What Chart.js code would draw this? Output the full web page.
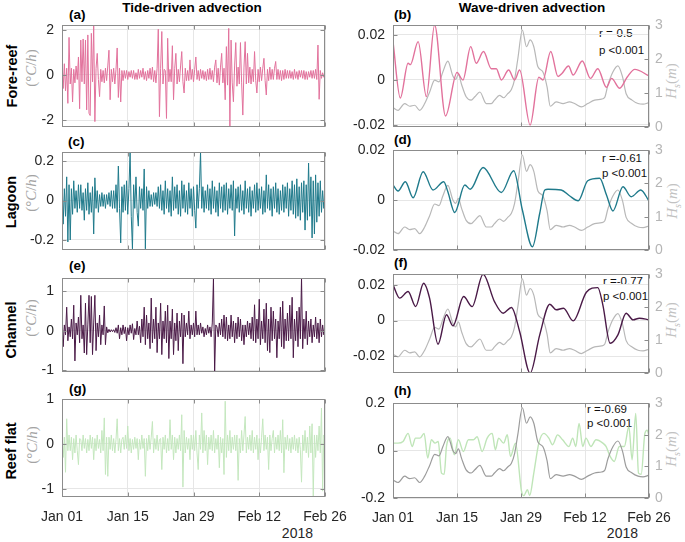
<!DOCTYPE html>
<html><head><meta charset="utf-8">
<script src="https://cdn.jsdelivr.net/npm/chart.js@4.4.0/dist/chart.umd.min.js"></script>
<style>
html,body{margin:0;padding:0;background:#fff;}
body{width:685px;height:542px;position:relative;overflow:hidden;font-family:"Liberation Sans",Arial,Helvetica,sans-serif;}
canvas{position:absolute;}
.tx{position:absolute;white-space:nowrap;color:#000;line-height:1;}
.c{transform:translate(-50%,-50%);}
.l{transform:translate(0,-50%);}
.r{transform:translate(-100%,-50%);}
.rot{transform:translate(-50%,-50%) rotate(-90deg);}
.title{font-weight:bold;font-size:13.5px;}
.lab{font-weight:bold;font-size:13.5px;}
.row{font-weight:bold;font-size:14.5px;}
.unit{font-family:"Liberation Serif","DejaVu Serif",serif;font-size:15px;color:#a3a3a3;}
.hs{font-family:"Liberation Serif","DejaVu Serif",serif;font-size:15px;color:#c2c2c2;}
.hs sub{font-size:10px;}
.st{font-size:11.5px;color:#111;}
.yr{font-size:14px;color:#262626;}
</style></head><body>
<div class="tx c title" style="left:192px;top:8px">Tide-driven advection</div>
<div class="tx c title" style="left:532px;top:8px">Wave-driven advection</div>

<div class="tx l lab" style="left:69px;top:15px">(a)</div>
<div class="tx l lab" style="left:394px;top:15px">(b)</div>
<div class="tx l lab" style="left:68px;top:142px">(c)</div>
<div class="tx l lab" style="left:394px;top:140px">(d)</div>
<div class="tx l lab" style="left:69px;top:266px">(e)</div>
<div class="tx l lab" style="left:394px;top:263px">(f)</div>
<div class="tx l lab" style="left:69px;top:389px">(g)</div>
<div class="tx l lab" style="left:394px;top:391px">(h)</div>

<div class="tx rot row" style="left:12px;top:76px">Fore-reef</div>
<div class="tx rot row" style="left:11px;top:202px">Lagoon</div>
<div class="tx rot row" style="left:11px;top:330px">Channel</div>
<div class="tx rot row" style="left:11px;top:451px">Reef flat</div>

<div class="tx rot unit" style="left:31px;top:68px">(°<i>C</i>/<i>h</i>)</div>
<div class="tx rot unit" style="left:31px;top:193px">(°<i>C</i>/<i>h</i>)</div>
<div class="tx rot unit" style="left:31px;top:318px">(°<i>C</i>/<i>h</i>)</div>
<div class="tx rot unit" style="left:32px;top:445px">(°<i>C</i>/<i>h</i>)</div>

<div class="tx rot hs" style="left:673px;top:81px"><i>H<sub>s</sub></i>(<i>m</i>)</div>
<div class="tx rot hs" style="left:674px;top:201px"><i>H<sub>s</sub></i>(<i>m</i>)</div>
<div class="tx rot hs" style="left:673px;top:320px"><i>H<sub>s</sub></i>(<i>m</i>)</div>
<div class="tx rot hs" style="left:673px;top:449px"><i>H<sub>s</sub></i>(<i>m</i>)</div>

<div class="tx l st" style="left:599px;top:34px">r =-0.5</div>
<div class="tx l st" style="left:599px;top:51px">p &lt;0.001</div>
<div class="tx l st" style="left:602px;top:159px">r =-0.61</div>
<div class="tx l st" style="left:602px;top:174px">p &lt;0.001</div>
<div class="tx l st" style="left:603px;top:282px">r =-0.77</div>
<div class="tx l st" style="left:603px;top:297px">p &lt;0.001</div>
<div class="tx l st" style="left:587px;top:410px">r =-0.69</div>
<div class="tx l st" style="left:587px;top:424px">p &lt;0.001</div>

<div class="tx r yr" style="left:313px;top:533px">2018</div>
<div class="tx r yr" style="left:638px;top:533px">2018</div>

<script>
// ---------- data ----------
const tickDays = [0, 14, 28, 42, 56];
const tickLabels = ['Jan 01', 'Jan 15', 'Jan 29', 'Feb 12', 'Feb 26'];
const stepDays = 0.25; // left panels: one value every 6 h

const foreTide = [
 0.7,-0.6,0.5,-0.7, 0.3,-1.26,1.67,-0.4,
 0.3,-1.2,0.25,-0.35, 0.4,-0.2,0.8,-1.5,
 1.55,-0.3,1.6,-0.4, 1.55,-1.55,1.78,-1.7,
 -1.8,1.85,-0.3,2.2, -2.07,0.3,0.96,-0.2,
 -0.96,0.25,-0.3,0.2, -0.35,0.3,-0.25,0.4,
 1.1,-1.1,0.25,-0.3, 0.3,-0.4,0.25,1.2,
 -1.0,0.3,-1.2,0.2, -0.25,0.2,-0.15,0.2,
 -0.2,0.15,-0.1,0.2, -0.15,0.2,-0.2,0.1,
 -0.2,0.25,-0.15,0.2, -0.1,0.3,-0.2,0.15,
 -0.25,0.2,-0.15,0.3, -0.2,0.35,-0.3,0.2,
 -0.35,0.3,2.03,-1.85, 0.3,1.93,-0.4,0.25,
 0.2,-1.93,1.63,-0.3, 0.25,-0.3,1.3,-1.1,
 0.3,0.96,-0.4,0.25, -0.3,0.4,1.04,-0.3,
 -0.8,0.3,-0.25,0.2, -0.25,0.67,-0.2,0.25,
 -0.3,0.25,0.8,-0.2, 0.2,-0.25,0.25,-0.15,
 0.2,-0.2,0.15,-0.25, 0.25,-0.2,0.3,-0.2,
 0.2,-0.3,0.35,0.67, -0.35,0.3,-0.45,0.35,
 0.96,-0.35,0.3,-1.1, 1.26,-0.45,2.07,-2.27,
 1.55,-0.35,-1.19,0.4, 1.44,-0.5,0.35,-0.4,
 1.44,-0.35,-1.78,0.35, 1.48,-0.4,0.96,-0.35,
 0.35,-0.4,0.25,-0.3, 1.04,-0.25,-0.8,0.25,
 -0.3,0.35,-0.25,0.3, 0.74,-0.25,-0.89,0.25,
 -0.25,0.35,-0.2,0.25, -0.2,0.3,0.6,-0.2,
 0.25,-0.2,0.2,-0.25, 0.2,-0.2,0.25,-0.15,
 0.2,-0.15,0.2,-0.15, 0.15,-0.2,0.25,-0.15,
 0.15,-0.2,0.2,-0.1, 0.2,-0.15,0.2,-0.2,
 0.15,-0.2,0.15,-0.1, 0.2,-0.15,0.2,-0.15,
 0.25,-0.2,1.33,-1.08, 0.2,-0.15,0.1,-0.1,
 0.05];

const lagoonTide = [
 0.13,-0.12,0.06,-0.08, 0.12,-0.21,0.08,-0.2,
 0.06,-0.07,0.1,-0.04, 0.05,-0.06,0.08,-0.04,
 0.08,-0.05,0.04,-0.1, 0.06,-0.05,0.09,-0.07,
 0.04,-0.06,0.07,-0.17, 0.115,-0.04,0.05,-0.06,
 0.03,-0.03,0.04,-0.03, 0.03,-0.04,0.03,-0.02,
 0.04,-0.03,0.05,-0.04, 0.05,-0.04,0.08,-0.06,
 0.175,-0.04,-0.215,0.07, -0.06,0.08,-0.05,0.1,
 -0.07,0.06,0.246,-0.08, -0.245,0.08,-0.04,0.12,
 -0.06,-0.13,0.07,-0.04, 0.06,-0.05,0.16,-0.245,
 0.07,-0.04,0.05,-0.03, 0.03,-0.03,0.04,-0.02,
 0.04,-0.03,0.07,-0.04, 0.08,-0.05,0.05,-0.07,
 0.1,-0.04,0.06,-0.06, 0.05,-0.08,0.12,-0.05,
 0.07,-0.04,0.08,-0.07, 0.05,-0.08,0.1,-0.04,
 0.08,-0.06,0.05,-0.07, 0.09,-0.04,0.06,-0.08,
 0.07,-0.05,-0.14,0.08, -0.04,0.06,0.246,-0.04,
 0.07,-0.06,0.05,-0.04, 0.08,-0.05,0.06,-0.07,
 0.1,-0.04,0.07,-0.06, 0.05,-0.08,0.09,-0.04,
 0.07,-0.06,0.08,-0.05, 0.09,-0.07,0.06,-0.04,
 0.08,-0.05,0.1,-0.18, 0.06,-0.04,0.07,-0.06,
 0.08,-0.05,0.05,-0.07, 0.1,-0.04,0.06,-0.06,
 0.07,-0.08,0.05,-0.04, 0.08,-0.06,0.09,-0.05,
 0.06,-0.04,0.07,-0.07, 0.05,-0.06,0.13,-0.04,
 0.08,-0.05,0.06,-0.08, 0.07,-0.04,0.09,-0.06,
 0.06,-0.07,0.05,-0.05, 0.08,-0.06,0.07,-0.04,
 0.09,-0.08,0.06,-0.05, 0.1,-0.07,0.08,-0.09,
 0.11,-0.08,0.07,-0.1, 0.09,-0.06,0.1,-0.15,
 0.08,-0.1,0.19,-0.08, 0.12,-0.19,0.1,-0.17,
 0.13,-0.11,0.09,-0.08, 0.1,-0.06,0.05,-0.04,
 0.02];

const channelTide = [
 0.5,-0.4,0.15,-0.1, 0.6,-0.25,0.1,-0.15,
 0.3,-0.2,0.65,-0.76, 0.2,-0.1,0.35,-0.3,
 0.9,-0.2,0.15,-0.56, 0.7,-0.6,0.15,0.9,
 -0.3,0.87,-0.6,0.2, 0.9,-0.5,0.2,-0.15,
 0.4,-0.35,0.15,-0.1, 0.63,-0.35,0.1,-0.05,
 0.04,-0.03,0.03,-0.02, 0.03,-0.04,0.08,-0.06,
 0.15,-0.2,0.08,-0.1, 0.15,-0.07,0.1,-0.25,
 0.08,-0.1,0.15,-0.06, 0.18,-0.22,0.06,-0.1,
 0.25,-0.1,0.12,-0.3, 0.3,-0.15,0.6,-0.35,
 0.4,-0.2,0.2,-0.45, 0.83,-0.3,0.3,-0.2,
 0.6,-0.55,0.2,-0.2, 0.7,-0.6,0.25,-0.2,
 0.5,-0.3,0.65,-0.7, 0.25,-0.2,0.55,-0.6,
 0.2,-0.25,0.45,-0.5, 0.25,-0.15,0.45,-0.83,
 0.4,-0.15,0.2,-0.1, 0.5,-0.2,0.15,-0.1,
 0.2,-0.15,0.5,-0.1, 0.15,-0.1,0.2,-0.06,
 0.1,-0.15,0.06,-0.1, 0.15,-0.06,0.1,-0.15,
 0.2,1.32,-1.07,0.15, 0.1,-0.15,0.2,-0.1,
 0.3,-0.15,0.4,-0.2, 0.35,-0.25,0.15,-0.2,
 0.4,-0.15,0.25,-0.3, 0.2,-0.2,0.35,-0.15,
 0.3,-0.25,0.15,-0.35, 0.15,-0.15,0.25,-0.1,
 0.2,-0.2,0.35,-0.25, 0.66,-0.3,0.3,-0.2,
 0.8,-0.35,0.25,-0.2, 0.55,-0.3,0.7,-0.5,
 0.3,-0.55,0.6,-0.25, 0.5,-0.2,0.3,-0.68,
 0.25,-0.2,0.6,-0.4, 0.75,-0.45,0.3,-0.25,
 0.45,-0.25,0.65,-0.2, 0.85,-0.68,0.3,-0.25,
 0.5,-0.4,0.6,-0.2, 1.35,-0.45,0.3,-0.2,
 0.5,-0.35,0.25,-0.15, 0.3,-0.3,0.15,-0.15,
 0.35,-0.2,0.2,-0.3, 0.3,-0.15,0.15,-0.1,
 0.05];

const reefTide = [
 0.2,-0.3,0.15,-0.63, 0.56,-0.15,0.2,-0.15,
 0.15,-0.35,0.12,-0.2, 0.2,-0.15,-0.46,0.12,
 0.1,-0.15,0.2,-0.1, 0.12,-0.2,0.1,-0.15,
 0.2,-0.1,0.15,-0.35, 0.12,-0.15,0.2,-0.1,
 0.1,-0.2,0.3,-0.15, 0.58,-0.68,0.15,-0.72,
 0.15,-0.12,0.2,-0.15, 0.12,-0.2,0.1,0.56,
 -0.15,0.12,-0.2,0.1, 0.15,-0.12,0.2,-0.1,
 0.4,-0.15,0.12,-0.2, 0.1,-0.12,0.15,-0.1,
 0.12,-0.35,0.1,-0.12, 0.2,-0.1,0.12,-0.72,
 0.12,-0.15,0.2,-0.12, 0.15,0.5,-0.2,0.12,
 -0.12,0.2,-0.15,0.1, 0.12,-0.57,0.15,-0.12,
 0.2,-0.2,0.12,-0.15, 0.54,-0.12,0.2,-0.35,
 0.15,-0.2,0.12,-0.12, 0.2,-0.15,0.65,-0.96,
 0.3,-0.2,0.15,-0.12, 0.12,-0.35,0.2,-0.12,
 0.2,-0.15,0.3,-0.2, -0.57,0.2,-0.12,0.69,
 -0.2,0.3,-0.15,0.2, -0.46,0.15,-0.12,0.2,
 -0.15,0.3,-0.2,0.12, -0.12,0.2,-0.53,0.15,
 -0.2,0.12,-0.68,0.95, -0.3,0.2,-0.15,0.3,
 -0.2,0.15,-0.12,0.2, -0.15,0.2,-0.81,0.12,
 -0.2,0.3,-0.15,0.2, 0.61,-0.2,0.15,-0.12,
 0.2,-0.15,0.3,-0.2, 0.15,-0.12,0.2,-0.35,
 0.12,-0.2,0.15,0.56, -0.15,0.2,-0.12,0.15,
 -0.57,0.2,-0.15,0.12, 0.3,-0.2,0.15,-0.12,
 0.2,-0.15,0.3,-0.2, 0.54,-0.64,0.15,-0.12,
 0.2,-0.15,0.12,-0.2, 0.15,-0.12,0.2,-0.15,
 0.12,-0.2,0.15,-0.12, -0.85,0.2,-0.15,0.3,
 -0.2,0.15,-0.3,0.4, -0.2,0.45,-1.16,0.2,
 -0.3,0.2,-0.15,0.4, -0.2,0.8,-1.05,0.2,
 0.05];

// significant wave height (same record on all right panels)
const hsDays   = [0,1.1,2.55,3.65,4.74,5.83,6.93,8.02,9.11,10.06,10.9,12.0,13.1,13.7,14.3,15.0,16.0,17.1,17.9,19.0,20.4,21.5,22.2,23.3,24.2,25.1,25.9,26.6,27.3,28.3,29.2,30.0,30.8,31.7,32.8,33.7,34.4,35.7,37.2,38.6,39.7,41.2,42.6,44.1,45.6,46.3,47.0,48.1,49.2,50.2,51.0,52.3,53.6,54.7,56];
const hsValues = [0.57,0.49,0.69,0.61,0.64,0.49,0.69,1.03,1.38,1.33,1.62,1.94,1.5,1.4,1.55,1.25,0.89,0.79,0.89,1.03,0.69,0.69,0.79,0.93,0.86,0.98,1.1,1.4,2.0,2.85,2.36,2.56,2.36,1.77,1.62,1.18,0.61,0.74,0.69,0.74,0.69,0.59,0.69,0.79,0.82,0.87,1.23,1.62,1.8,1.48,0.98,0.79,0.69,0.67,0.72];

const foreDays = [0,1.6,3.3,3.8,5.5,7.3,9.1,11.5,14.0,15.3,17.0,18.2,19.8,21.5,22.6,23.7,25.3,26.6,27.7,30.0,31.9,32.8,34.5,36.1,37.0,38.4,39.4,41.4,43.2,44.8,46.7,47.8,49.6,51.2,52.9,56];
const foreWave = [0.017,-0.008,0.0074,0.0068,0.017,-0.0074,0.0244,-0.016,0.0033,0.0,0.0148,0.0074,0.0126,0.005,0.005,0.0,0.0044,0.0,0.0044,-0.02,0.0012,0.0,0.0126,0.0015,0.003,0.0062,0.0022,0.0084,0.0007,0.005,-0.0033,0.0007,-0.0037,0.0012,0.0047,0.0018];

const lagoonDays = [0,1.1,2.7,4.4,6.6,8.75,11.1,12.0,13.5,15.7,16.9,19.7,23.7,26.4,28.3,30.5,32.1,33.2,33.9,36.8,38.6,40.5,42.6,45.2,46.7,48.1,50.3,52.1,54.2,56];
const lagoonWave = [0.006,0.0036,0.0073,0.0009,0.0113,0.004,0.0073,0.0033,-0.005,0.006,0.0043,0.013,0.003,0.0117,-0.004,-0.0187,-0.0053,0.004,0.0043,0.004,0.0017,-0.0003,0.0077,0.0087,0.002,-0.0044,0.0053,0.0013,0.004,-0.0004];

const channelDays = [0,1.46,3.3,4.96,6.7,8.0,9.85,11.7,13.1,15.45,17.3,19.7,22.2,24.1,25.9,27.7,30.0,32.1,34.3,35.7,37.3,39.4,42.3,44.8,45.9,47.5,49.2,51.0,52.5,53.9,56];
const channelWave = [0.0199,0.0125,0.0162,0.0078,0.0208,0.0125,-0.0132,0.0032,-0.003,0.0134,0.0078,0.0259,0.0106,0.0041,0.0073,-0.0061,-0.0294,-0.008,0.0091,0.006,0.0069,-0.0002,0.0158,0.0184,0.0088,-0.0127,-0.008,0.0041,0.0004,0.0013,0.0004];

const reefDays = [0,1.1,2.2,3.3,4.2,4.9,5.9,6.8,7.6,8.4,9.2,9.9,10.6,11.2,11.7,12.5,13.4,14.3,15.4,16.5,17.6,18.4,19.5,20.6,21.7,22.4,23.1,24.2,25.0,25.7,26.8,28.1,28.6,29.4,29.9,30.8,31.9,33.0,34.1,34.9,36.0,37.1,38.5,39.3,40.0,40.7,41.5,42.2,43.3,44.4,45.9,46.6,47.5,48.4,49.5,50.6,51.6,52.3,53.1,53.7,54.3,55.1,55.6,56];
const reefWave = [0.031,0.031,0.038,0.072,0.017,0.052,0.052,0.072,-0.032,0.045,0.031,0.038,-0.095,-0.10,0.017,0.052,-0.018,0.045,-0.004,0.045,0.045,0.058,-0.004,0.052,0.072,0.003,0.052,0.031,0.066,-0.025,0.031,-0.17,-0.19,-0.165,-0.19,-0.095,0.031,0.072,0.052,0.024,0.066,0.045,0.017,0.052,0.017,0.114,0.017,0.052,0.017,0.045,0.031,0.017,-0.025,-0.046,0.017,0.017,0.10,-0.039,0.156,-0.095,-0.10,0.072,0.086,0.059];

const hsTicks = [0, 1, 2, 3];
const hsTickLabels = ['0', '1', '2', '3'];

// ---------- styling ----------
const axisColor = '#8c8c8c';
const gridColor = '#e6e6e6';
const tickColor = '#262626';
const FONT = '"Liberation Sans", Arial, Helvetica, sans-serif';

const boxPlugin = {
  id: 'box',
  afterDatasetsDraw(chart) {
    const {ctx, chartArea: a, scales} = chart;
    ctx.save();
    ctx.strokeStyle = axisColor;
    ctx.lineWidth = 1;
    const L = Math.round(a.left) + 0.5, R = Math.round(a.right) - 0.5;
    const T = Math.round(a.top) + 0.5, B = Math.round(a.bottom) - 0.5;
    ctx.strokeRect(L, T, R - L, B - T);
    ctx.beginPath();
    const tl = 4;
    scales.x.ticks.forEach(t => {
      const px = Math.round(scales.x.getPixelForValue(t.value)) + 0.5;
      ctx.moveTo(px, B); ctx.lineTo(px, B - tl);
      ctx.moveTo(px, T); ctx.lineTo(px, T + tl);
    });
    scales.y.ticks.forEach(t => {
      const py = Math.round(scales.y.getPixelForValue(t.value)) + 0.5;
      ctx.moveTo(L, py); ctx.lineTo(L + tl, py);
      if (!scales.y2) { ctx.moveTo(R, py); ctx.lineTo(R - tl, py); }
    });
    if (scales.y2) {
      scales.y2.ticks.forEach(t => {
        const py = Math.round(scales.y2.getPixelForValue(t.value)) + 0.5;
        ctx.moveTo(R, py); ctx.lineTo(R - tl, py);
      });
    }
    ctx.stroke();
    ctx.restore();
  }
};

function zeroPad(s) { s.paddingTop = 0; s.paddingBottom = 0; s.paddingLeft = 0; s.paddingRight = 0; }

function makePanel(o) {
  const padTop = 12;
  const xH = o.bottomRow ? 34 : 4;
  const cv = document.createElement('canvas');
  const H = padTop + (o.plotBottom - o.plotTop) + xH;
  cv.width = o.width; cv.height = H;
  cv.style.left = o.left + 'px'; cv.style.top = (o.plotTop - padTop) + 'px';
  cv.style.width = o.width + 'px'; cv.style.height = H + 'px';
  document.body.appendChild(cv);

  const scales = {
    x: {
      type: 'linear', min: 0, max: 56,
      afterBuildTicks: s => { s.ticks = tickDays.map(v => ({value: v})); },
      afterFit: s => { s.height = xH; zeroPad(s); },
      ticks: {display: o.bottomRow, autoSkip: false, maxRotation: 0, padding: 12,
              color: tickColor, font: {family: FONT, size: 14},
              callback: (v, i) => tickLabels[i]},
      grid: {color: gridColor, drawTicks: false, lineWidth: 1},
      border: {display: false}
    },
    y: {
      type: 'linear', position: 'left', min: o.ymin, max: o.ymax,
      afterBuildTicks: s => { s.ticks = o.yTicks.map(v => ({value: v})); },
      afterFit: s => { s.width = o.yW; zeroPad(s); },
      ticks: {padding: 8, color: tickColor, font: {family: FONT, size: 14},
              callback: (v, i) => o.yLabels[i]},
      grid: {color: gridColor, drawTicks: false, lineWidth: 1},
      border: {display: false}
    }
  };
  if (o.hs) {
    scales.y2 = {
      type: 'linear', position: 'right', min: 0, max: 3,
      afterBuildTicks: s => { s.ticks = hsTicks.map(v => ({value: v})); },
      afterFit: s => { s.width = o.y2W; zeroPad(s); },
      ticks: {padding: 6, color: '#b5b5b5', font: {family: FONT, size: 14},
              callback: (v, i) => hsTickLabels[i]},
      grid: {display: false, drawTicks: false},
      border: {display: false}
    };
  }
  new Chart(cv.getContext('2d'), {
    type: 'line',
    data: {datasets: o.datasets},
    options: {
      responsive: false, animation: false, events: [],
      layout: {padding: {top: padTop, right: o.padRight, left: 0, bottom: 0}},
      plugins: {legend: {display: false}, tooltip: {enabled: false}},
      elements: {point: {radius: 0}},
      scales
    },
    plugins: [boxPlugin]
  });
}

function tideSet(arr, color) {
  return [{data: arr.map((v, i) => ({x: i * stepDays, y: v})), borderColor: color,
           borderWidth: 1, pointRadius: 0, tension: 0, fill: false, yAxisID: 'y'}];
}
function waveSets(days, vals, color, hsColor, hsOnTop) {
  return [
    {data: days.map((d, i) => ({x: d, y: vals[i]})), borderColor: color, borderWidth: 1.4,
     pointRadius: 0, cubicInterpolationMode: 'monotone', fill: false, yAxisID: 'y', order: hsOnTop ? 1 : 0},
    {data: hsDays.map((d, i) => ({x: d, y: hsValues[i]})), borderColor: hsColor, borderWidth: 1.2,
     pointRadius: 0, cubicInterpolationMode: 'monotone', fill: false, yAxisID: 'y2', order: hsOnTop ? 0 : 1}
  ];
}

const LEFT = {left: 0, width: 350, yW: 62, padRight: 25};
const RIGHT = {left: 333, width: 352, yW: 60, y2W: 36, padRight: 0, hs: true};

makePanel(Object.assign({}, LEFT, {plotTop: 25, plotBottom: 127, ymin: -2.31, ymax: 2.22,
  yTicks: [-2, 0, 2], yLabels: ['-2', '0', '2'], datasets: tideSet(foreTide, '#e2729c')}));
makePanel(Object.assign({}, RIGHT, {plotTop: 25, plotBottom: 127, ymin: -0.0209, ymax: 0.0244,
  yTicks: [-0.02, 0, 0.02], yLabels: ['-0.02', '0', '0.02'],
  datasets: waveSets(foreDays, foreWave, '#e2729c', '#b8b8b8', false)}));

makePanel(Object.assign({}, LEFT, {plotTop: 152, plotBottom: 250, ymin: -0.251, ymax: 0.246,
  yTicks: [-0.2, 0, 0.2], yLabels: ['-0.2', '0', '0.2'], datasets: tideSet(lagoonTide, '#1f7a8b')}));
makePanel(Object.assign({}, RIGHT, {plotTop: 150, plotBottom: 250, ymin: -0.02, ymax: 0.02,
  yTicks: [-0.02, 0, 0.02], yLabels: ['-0.02', '0', '0.02'],
  datasets: waveSets(lagoonDays, lagoonWave, '#1f7a8b', '#b8b8b8', false)}));

makePanel(Object.assign({}, LEFT, {plotTop: 278, plotBottom: 372, ymin: -1.04, ymax: 1.337,
  yTicks: [-1, 0, 1], yLabels: ['-1', '0', '1'], datasets: tideSet(channelTide, '#4a1a47')}));
makePanel(Object.assign({}, RIGHT, {plotTop: 274, plotBottom: 373, ymin: -0.0293, ymax: 0.026,
  yTicks: [-0.02, 0, 0.02], yLabels: ['-0.02', '0', '0.02'],
  datasets: waveSets(channelDays, channelWave, '#4a1a47', '#b8b8b8', false)}));

makePanel(Object.assign({}, LEFT, {plotTop: 399, plotBottom: 497, ymin: -1.18, ymax: 1.0, bottomRow: true,
  yTicks: [-1, 0, 1], yLabels: ['-1', '0', '1'], datasets: tideSet(reefTide, '#c4e7be')}));
makePanel(Object.assign({}, RIGHT, {plotTop: 403, plotBottom: 498, ymin: -0.2, ymax: 0.2, bottomRow: true,
  yTicks: [-0.2, 0, 0.2], yLabels: ['-0.2', '0', '0.2'],
  datasets: waveSets(reefDays, reefWave, '#bfe5b8', '#9c9c9c', true)}));
</script>
</body></html>
